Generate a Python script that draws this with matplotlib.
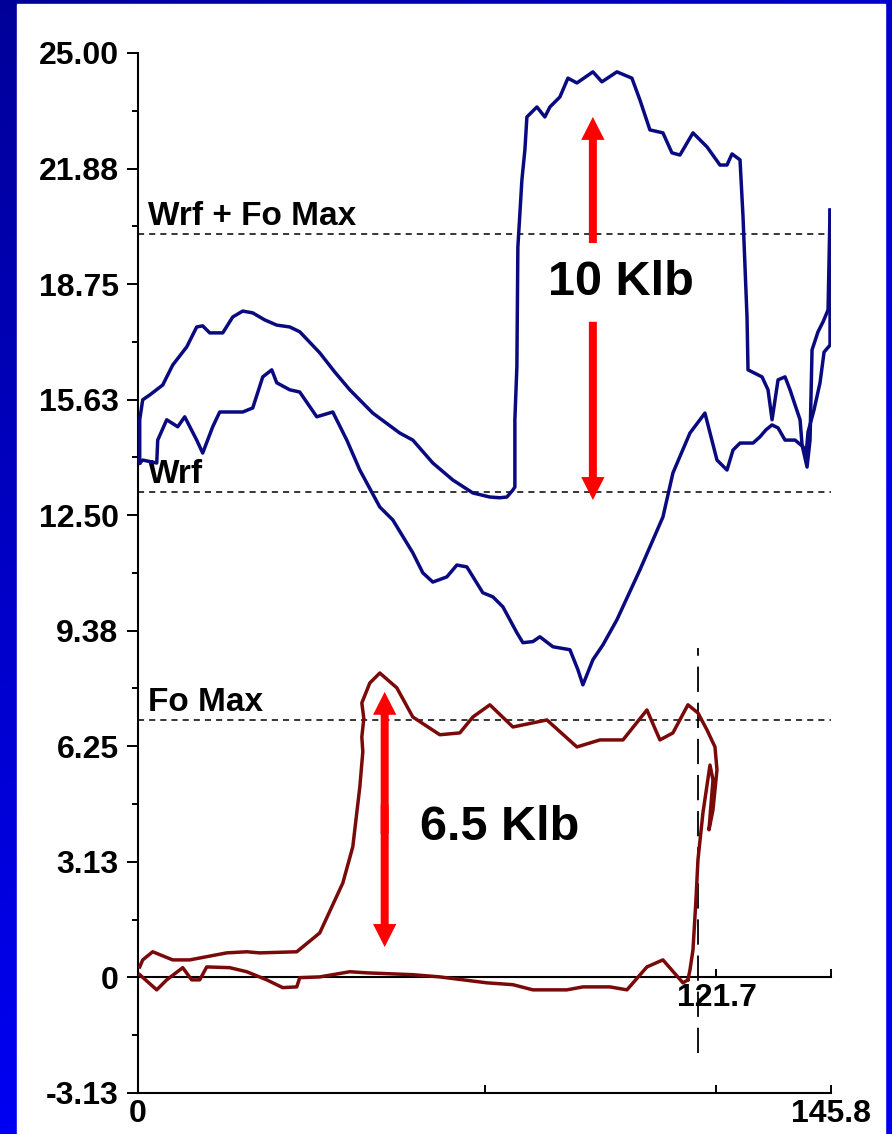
"""
Dynamometer cards: surface card (blue) and pump card (red) with
load reference lines Wrf, Fo Max and Wrf + Fo Max.
Writes out.png
"""

import numpy as np
import matplotlib
matplotlib.use("Agg")
import matplotlib.pyplot as plt
from matplotlib.patches import Rectangle

# ---- data (position in, load in Klb) ----
X_MAX = 145.8
Y_MIN, Y_MAX = -3.13, 25.00
y_ticks = [25.00, 21.875, 18.75, 15.625, 12.50, 9.375, 6.25, 3.125, 0.0, -3.125]
y_ticklabels = ["25.00", "21.88", "18.75", "15.63", "12.50", "9.38", "6.25", "3.13", "0", "-3.13"]
x_ticks = [0, 72.9, 121.7, 145.8]
x_ticklabels = ["0", "", "", "145.8"]
zero_ticks = [121.7, 145.8]
zero_ticklabels = ["121.7", ""]

WRF = 13.12
FO_MAX = 6.95
WRF_FO = 20.10
stroke_mark = 117.8          # vertical dashed marker
stroke_mark_span = (-2.04, 8.91)

# surface card, upstroke path
surf_up_x = [0.36, 0.36, 0.99, 2.46, 5.20, 7.30, 10.25, 12.35, 13.61, 15.09, 17.83,
             19.93, 22.04, 24.14, 26.67, 29.19, 31.93, 34.03, 38.24, 41.40, 44.56,
             49.40, 55.08, 57.82, 62.03, 66.24, 70.45, 74.03, 76.13, 77.61, 78.87,
             79.29, 79.29, 79.71, 79.92, 80.77, 81.40, 81.82, 83.92, 85.60, 86.66,
             88.76, 90.45, 92.34, 95.71, 97.60, 100.76, 103.91, 105.60, 107.70,
             110.44, 112.33, 114.02, 116.76, 119.71, 122.44, 123.92, 124.97, 126.66,
             127.29, 127.71, 128.13, 128.34, 131.29, 132.55, 133.40, 134.66, 136.13,
             137.18, 138.24, 139.29, 139.71, 140.76, 141.39, 141.81, 143.07, 144.13,
             145.18, 145.60]
surf_up_y = [13.91, 15.08, 15.62, 15.75, 16.02, 16.56, 17.05, 17.59, 17.62, 17.43, 17.43,
             17.86, 18.02, 17.97, 17.78, 17.64, 17.59, 17.46, 16.89, 16.37, 15.89,
             15.26, 14.72, 14.53, 13.91, 13.45, 13.10, 12.99, 12.97, 12.99, 13.18,
             13.26, 15.08, 16.51, 19.75, 21.57, 22.38, 23.27, 23.54, 23.27, 23.54,
             23.81, 24.32, 24.19, 24.49, 24.22, 24.49, 24.32, 23.73, 22.92,
             22.84, 22.30, 22.24, 22.84, 22.46, 21.97, 21.97, 22.27, 22.11,
             20.57, 19.21, 17.86, 16.43, 16.24, 15.89, 15.08, 16.16, 16.24,
             15.89, 15.48, 15.08, 14.40, 13.80, 14.53, 16.97, 17.46, 17.73,
             18.05, 20.75]

# surface card, downstroke path
surf_dn_x = [145.60, 145.60, 144.34, 143.49, 142.23, 140.97, 140.55, 139.92, 138.24,
             136.13, 134.66, 133.40, 132.13, 130.87, 129.40, 126.66, 125.18, 123.92,
             121.81, 119.28, 116.12, 112.54, 110.44, 105.60, 100.76, 97.81, 95.71,
             93.60, 92.55, 90.87, 87.29, 84.55, 83.08, 80.98, 79.71, 76.77, 74.66,
             72.55, 69.19, 67.08, 64.98, 62.03, 59.92, 57.82, 53.61, 50.87, 46.67,
             43.93, 40.98, 37.61, 34.03, 31.93, 29.19, 28.14, 26.25, 24.14, 22.04,
             17.19, 15.72, 13.61, 12.35, 9.83, 8.36, 6.04, 4.15, 3.94, 0.99, 0.36]
surf_dn_y = [20.75, 17.10, 16.91, 16.08, 15.35, 14.75, 14.13, 14.35, 14.53,
             14.53, 14.86, 14.94, 14.81, 14.62, 14.45, 14.45, 14.26, 13.72,
             13.99, 15.26, 14.72, 13.64, 12.45, 11.02, 9.67, 8.99, 8.59,
             7.91, 8.32, 8.86, 8.94, 9.21, 9.08, 9.05, 9.32, 10.02, 10.29,
             10.40, 11.10, 11.15, 10.83, 10.69, 10.94, 11.48, 12.37, 12.72, 13.72,
             14.53, 15.29, 15.16, 15.83, 15.89, 16.08, 16.43, 16.24, 15.40, 15.29,
             15.29, 14.89, 14.18, 14.53, 15.16, 14.89, 15.08, 14.53, 13.91, 13.99, 13.91]

# pump card, upper path
pump_up_x = [0.36, 0.99, 3.09, 7.30, 10.88, 18.67, 22.88, 25.61, 33.40, 38.24, 43.09,
             45.19, 46.67, 47.30, 47.09, 47.51, 47.09, 48.77, 50.87, 54.45, 57.82,
             63.50, 67.71, 70.45, 74.03, 78.87, 86.03, 92.34, 97.18, 102.03, 107.07,
             109.81, 112.54, 115.70, 117.81, 119.71, 121.39, 121.81, 120.97, 120.13,
             120.97, 120.34, 118.86, 117.81, 117.39, 116.76, 116.13, 115.70]
pump_up_y = [0.28, 0.47, 0.69, 0.47, 0.47, 0.66, 0.69, 0.66, 0.69, 1.20, 2.55,
             3.53, 5.15, 6.10, 6.50, 7.00, 7.42, 7.96, 8.23, 7.83, 7.04,
             6.56, 6.61, 7.04, 7.37, 6.77, 6.96, 6.23, 6.42, 6.42, 7.23,
             6.42, 6.61, 7.37, 7.15, 6.69, 6.23, 5.61, 4.53, 3.99,
             5.34, 5.74, 4.45, 3.18, 2.10, 0.74, 0.20, -0.07]

# pump card, lower path
pump_dn_x = [115.70, 114.65, 110.44, 107.07, 102.87, 99.29, 93.60, 90.24, 83.08,
             78.87, 73.40, 63.50, 57.82, 48.14, 44.56, 38.24, 34.03, 33.40, 30.45,
             27.09, 22.88, 19.30, 14.46, 12.98, 11.30, 9.41, 6.04, 3.94, 0.36]
pump_dn_y = [-0.07, -0.15, 0.47, 0.28, -0.34, -0.26, -0.26, -0.34, -0.34,
             -0.20, -0.15, 0.01, 0.07, 0.12, 0.15, 0.01, -0.01, -0.26, -0.28,
             -0.07, 0.15, 0.26, 0.28, -0.07, -0.07, 0.26, -0.07, -0.34, 0.07]

# red load arrows: x, low tip, high tip, gap around the label
arrow10_x, arrow10_lo, arrow10_hi, arrow10_gap = 95.7, 12.91, 23.27, (17.73, 19.86)
arrow65_x, arrow65_lo, arrow65_hi = 51.9, 0.82, 7.72

BLUE = "#0a0a80"
RED = "#7a0a0a"
ARROW_RED = "#ff0000"
FONT = ["Liberation Sans", "DejaVu Sans"]

fig = plt.figure(figsize=(8.92, 11.34), dpi=100)

# blue slide background with white panel
bg = fig.add_axes([0, 0, 1, 1])
u = np.linspace(0, 1, 200)[None, :]
v = np.linspace(0, 1, 300)[:, None]
shade = np.clip(0.60 + 0.35 * v + 0.2 * u, 0, 0.95)
grad = np.zeros((300, 200, 3))
grad[..., 2] = shade
bg.imshow(grad, extent=[0, 1, 1, 0], aspect="auto")
bg.add_patch(Rectangle((17 / 892, 4 / 1134), (885 - 17) / 892, 1.0, color="white"))
bg.set_xlim(0, 1); bg.set_ylim(1, 0)
bg.axis("off")

ax = fig.add_axes([138 / 892, 41 / 1134, 693 / 892, 1040 / 1134])
ax.set_facecolor("none")

# reference lines
dash = (0, (4, 3.3))
for yv in (WRF_FO, WRF, FO_MAX):
    ax.axhline(yv, color="black", lw=1.1, linestyle=dash, zorder=1)
lab_kw = dict(fontsize=24, fontweight="bold", family=FONT, va="baseline", ha="left")
ax.text(2.0, WRF_FO + 0.25, "Wrf + Fo Max", **lab_kw)
ax.text(2.0, WRF + 0.25, "Wrf", **lab_kw)
ax.text(2.0, FO_MAX + 0.25, "Fo Max", **lab_kw)
ax.vlines(stroke_mark, *stroke_mark_span, color="black", lw=1.3,
          linestyle=(0, (14, 6)), zorder=1)

# cards
ax.plot(surf_up_x, surf_up_y, color=BLUE, lw=2.5, zorder=3)
ax.plot(surf_dn_x, surf_dn_y, color=BLUE, lw=2.5, zorder=3)
ax.plot(pump_up_x, pump_up_y, color=RED, lw=2.5, zorder=3)
ax.plot(pump_dn_x, pump_dn_y, color=RED, lw=2.5, zorder=3)

# red arrows (widths in x units, head length in y units)
akw = dict(width=1.68, head_width=4.9, head_length=0.62, color=ARROW_RED,
           length_includes_head=True, zorder=4, lw=0)
ax.arrow(arrow10_x, arrow10_gap[1], 0, arrow10_hi - arrow10_gap[1], **akw)
ax.arrow(arrow10_x, arrow10_gap[0], 0, arrow10_lo - arrow10_gap[0], **akw)
mid65 = (arrow65_lo + arrow65_hi) / 2
ax.arrow(arrow65_x, mid65 - 0.4, 0, arrow65_hi - mid65 + 0.4, **akw)
ax.arrow(arrow65_x, mid65 + 0.4, 0, arrow65_lo - mid65 - 0.4, **akw)

big = dict(fontsize=35, fontweight="bold", family=FONT, ha="center", va="center")
ax.text(101.6, 18.78, "10 Klb", **big)
ax.text(76.1, 4.04, "6.5 Klb", **big)

# axes
ax.set_xlim(0, X_MAX)
ax.set_ylim(Y_MIN, Y_MAX)
for s in ("top", "right"):
    ax.spines[s].set_visible(False)
for s in ("left", "bottom"):
    ax.spines[s].set_linewidth(1.5)
ax.set_yticks(y_ticks)
ax.set_yticklabels(y_ticklabels)
ax.set_yticks([t - 1.5625 for t in y_ticks[:-1]], minor=True)
ax.tick_params(axis="y", which="major", direction="out", length=8, width=1.4, pad=6)
ax.tick_params(axis="y", which="minor", direction="out", length=4.5, width=1.4)
ax.set_xticks(x_ticks)
ax.set_xticklabels(x_ticklabels)
ax.tick_params(axis="x", direction="in", length=6, width=1.4, pad=4)
for lab in ax.get_yticklabels() + ax.get_xticklabels():
    lab.set_fontfamily(FONT)
    lab.set_fontweight("bold")
    lab.set_fontsize(23)

zax = ax.secondary_xaxis(0, transform=ax.transData)
zax.spines["bottom"].set_linewidth(1.5)
zax.set_xticks(zero_ticks)
zax.set_xticklabels(zero_ticklabels)
zax.tick_params(axis="x", direction="in", length=6, width=1.4, pad=4)
for lab in zax.get_xticklabels():
    lab.set_fontfamily(FONT)
    lab.set_fontweight("bold")
    lab.set_fontsize(23)

fig.savefig("out.png", dpi=100)
